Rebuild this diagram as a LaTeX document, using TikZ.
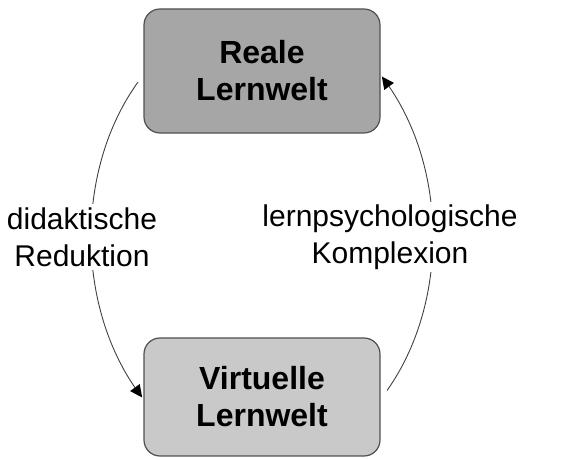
\documentclass[tikz,border=0pt]{standalone}
\usepackage{fontspec}
\setmainfont{Liberation Sans}
\usetikzlibrary{arrows.meta,calc}
\definecolor{topgray}{HTML}{A6A6A6}
\definecolor{botgray}{HTML}{C9C9C9}
\definecolor{edgegray}{HTML}{505050}
\definecolor{linegray}{HTML}{404040}
\begin{document}
\begin{tikzpicture}[x=1pt,y=1pt,
  box/.style={draw=edgegray, line width=1.2pt, rounded corners=16pt, minimum width=236pt,
    align=center, font=\fontsize{32}{37}\selectfont\bfseries, inner sep=0pt},
  lab/.style={fill=white, align=center, font=\fontsize{30}{37}\selectfont, inner sep=3pt},
  conn/.style={draw=linegray, line width=0.9pt},
  tipstyle/.style={fill=black, draw=none}]
\useasboundingbox (0,0) rectangle (578,460);
\node[box, fill=topgray, minimum height=124pt] (real) at (262,389) {Reale\\Lernwelt};
\node[box, fill=botgray, minimum height=118pt] (virt) at (262,63) {Virtuelle\\Lernwelt};
\coordinate (c) at (262,223);
\coordinate (l1) at ($(c)+(136.5:171 and 225)$);
\coordinate (r1) at ($(c)+(-43:171 and 225)$);
\draw[conn] (l1) arc[start angle=136.5, end angle=222, x radius=171, y radius=225] coordinate (l2);
\draw[conn] (r1) arc[start angle=-43, end angle=42, x radius=171, y radius=225] coordinate (r2);
\coordinate (lt) at ($(c)+(225.5:171 and 225)$);
\coordinate (rt) at ($(c)+(45.5:171 and 225)$);
\fill[tipstyle] (lt) -- ($(l2)!6pt!90:(lt)$) -- ($(l2)!6pt!-90:(lt)$) -- cycle;
\fill[tipstyle] (rt) -- ($(r2)!6pt!90:(rt)$) -- ($(r2)!6pt!-90:(rt)$) -- cycle;
\node[lab] (red) at (82,223) {didaktische\\Reduktion};
\node[lab] (kom) at (390,223) {lernpsychologische\\Komplexion};
\end{tikzpicture}
\end{document}
